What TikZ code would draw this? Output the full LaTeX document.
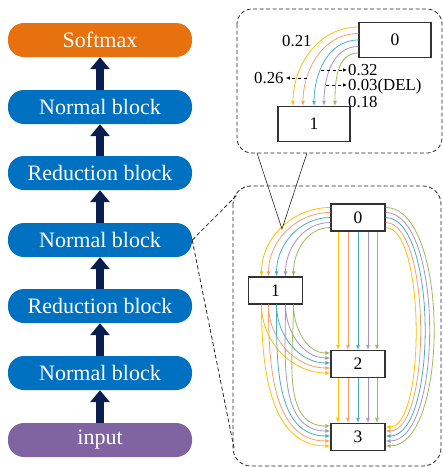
\documentclass[tikz,border=0pt]{standalone}
\usepackage{fontspec}
\setmainfont{Liberation Serif}
\usetikzlibrary{arrows.meta,calc}

\definecolor{cSoft}{HTML}{E8710F}
\definecolor{cBlock}{HTML}{0070C0}
\definecolor{cInput}{HTML}{8064A2}
\definecolor{cNavy}{HTML}{0B1D4E}
\definecolor{cYel}{HTML}{FFC000}
\definecolor{cOra}{HTML}{F5A06A}
\definecolor{cBlu}{HTML}{4BACC6}
\definecolor{cPur}{HTML}{A394C9}
\definecolor{cGre}{HTML}{9BBB59}

\tikzset{
  block/.style={rounded corners=16pt,minimum width=184pt,minimum height=34pt,
    inner sep=0pt,text=white,font=\fontsize{22}{24}\selectfont},
  up/.style={cNavy,line width=8pt,-{Triangle[width=19pt,length=12pt]}},
  cell/.style={draw=black!80,line width=1.2pt,fill=white,inner sep=0pt,
    minimum width=72pt,minimum height=35pt,font=\fontsize{17.5}{19}\selectfont},
  smallcell/.style={cell,minimum width=54pt,minimum height=27pt},
  flow/.style={line width=0.8pt,-{Latex[length=5pt,width=4pt]}},
  lbl/.style={inner sep=0pt,anchor=base west,font=\fontsize{16.8}{18}\selectfont},
  zoomline/.style={black!85,line width=0.8pt,dash pattern=on 4pt off 2.5pt}
}

\begin{document}
\begin{tikzpicture}[x=1pt,y=-1pt]
  \useasboundingbox (0,0) rectangle (443,467);

  % left column of blocks
  \node[block,fill=cSoft] (soft) at (100,40) {Softmax};
  \node[block,fill=cBlock] (nor3) at (100,107) {Normal block};
  \node[block,fill=cBlock] (red2) at (100,173) {Reduction block};
  \node[block,fill=cBlock] (nor2) at (100,240) {Normal block};
  \node[block,fill=cBlock] (red1) at (100,306) {Reduction block};
  \node[block,fill=cBlock] (nor1) at (100,373) {Normal block};
  \node[block,fill=cInput] (inp) at (100,440) {input};

  \foreach \lo/\hi in {inp/nor1,nor1/red1,red1/nor2,nor2/red2,red2/nor3,nor3/soft}
    \draw[up] (\lo.north) -- (\hi.south);

  % zoomed cell
  \draw[zoomline,rounded corners=18pt] (233,186) rectangle (441,466);
  \coordinate (ztop) at (237,195);
  \coordinate (zbot) at (234,448);
  \draw[zoomline] (nor2.east) -- (ztop);
  \draw[zoomline] (nor2.east) -- (zbot);

  \node[smallcell] (l0) at (358,217.5) {0};
  \node[smallcell] (l1) at (275.5,290.5) {1};
  \node[smallcell] (l2) at (358,364) {2};
  \node[smallcell] (l3) at (358,437) {3};

  \begin{scope}
    % 0 -> 1
    \foreach \c/\a/\b in {cYel/-10/-14,cOra/-5/-7,cBlu/0/1,cPur/5/10,cGre/10/18}
      \draw[flow,\c] ($(l0.west)+(0,\a)$) to[out=180,in=90] ($(l1.north)+(\b,0)$);
    % 1 -> 2 and 1 -> 3
    \foreach \c/\a/\b in {cYel/-14/9,cOra/-7/4,cBlu/1/-1,cPur/10/-6,cGre/18/-11} {
      \draw[flow,\c] ($(l1.south)+(\a,0)$) to[out=-90,in=180] ($(l2.west)+(0,\b)$);
      \draw[flow,\c] ($(l1.south)+(\a,0)$) to[out=-90,in=180] ($(l3.west)+(0,\b)$);
    }
    % 0 -> 2 and 2 -> 3
    \foreach \c/\a in {cYel/-20,cOra/-10,cBlu/0,cPur/10,cGre/19} {
      \draw[flow,\c] ($(l0.south)+(\a,0)$) -- ($(l2.north)+(\a,0)$);
      \draw[flow,\c] ($(l2.south)+(\a,0)$) -- ($(l3.north)+(\a,0)$);
    }
    % 0 -> 3
    \foreach \c/\a/\b/\k in {cYel/10/-10/40,cOra/5/-6/46,cBlu/0/-1/52,cPur/-5/4/58,cGre/-10/9/64}
      \draw[flow,\c] ($(l0.east)+(0,\a)$) .. controls +(\k,0) and +(\k,0) .. ($(l3.east)+(0,\b)$);
  \end{scope}

  % zoomed edge
  \draw[zoomline,rounded corners=15pt] (237,9) rectangle (442,153);
  \coordinate (zl) at (257,153);
  \coordinate (zr) at (307,153);
  \coordinate (za) at (282,229);
  \draw[black!85,line width=0.6pt] (zl) -- (za) -- (zr);

  \node[cell] (u0) at (395,40) {0};
  \node[cell] (u1) at (314,124) {1};

  \foreach \c/\a/\b in {cYel/-13/-21,cOra/-6.5/-11,cBlu/0/0,cPur/6.5/10,cGre/13/21}
    \draw[flow,\c] ($(u0.west)+(0,\a)$) to[out=180,in=90] ($(u1.north)+(\b,0)$);

  \node[lbl] (w21) at (282,46) {0.21};
  \node[lbl] (w26) at (254,83) {0.26};
  \node[lbl] (w32) at (348,75) {0.32};
  \node[lbl] (w03) at (348,90) {0.03(DEL)};
  \node[lbl] (w18) at (348,107.5) {0.18};

  \coordinate (p26) at (307,78);
  \coordinate (p32) at (321,70);
  \coordinate (p03) at (326,85);
  \begin{scope}[dashed,line width=0.7pt,-{Latex[length=4pt,width=3.5pt]}]
    \draw (p26) -- ($(w26.base east)+(2,-5)$);
    \draw (p32) -- ($(w32.base west)+(-1,-5)$);
    \draw (p03) -- ($(w03.base west)+(-1,-5)$);
  \end{scope}

\end{tikzpicture}
\end{document}
